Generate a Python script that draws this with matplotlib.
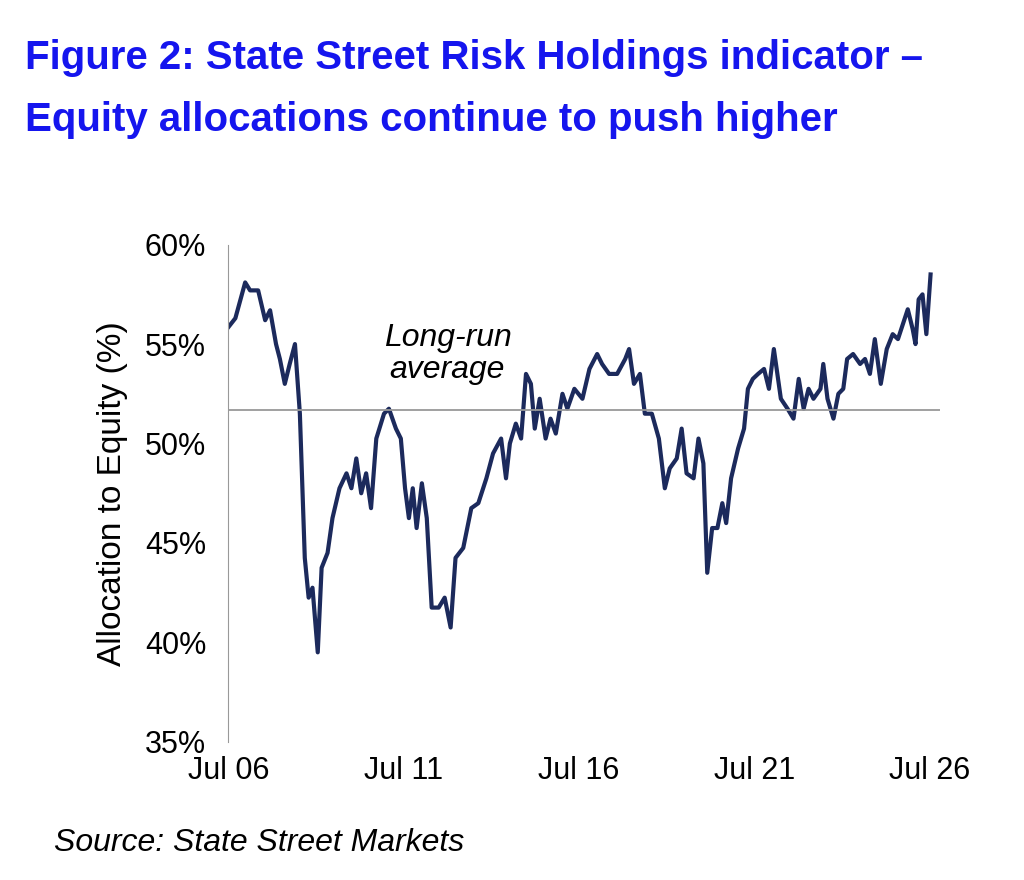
import matplotlib.pyplot as plt

# decimal years (06.50 = Jul 2006) and allocation to equity (%)
years = [6.50, 6.70, 6.84, 6.98, 7.12, 7.35, 7.55, 7.69, 7.86, 7.97, 8.11, 8.25, 8.40, 8.54, 8.68,
         8.79, 8.90, 9.05, 9.16, 9.33, 9.47, 9.67, 9.87, 10.01, 10.15, 10.29, 10.43, 10.57, 10.72,
         10.94, 11.08, 11.28, 11.42, 11.54, 11.65, 11.76, 11.87, 12.02, 12.16, 12.30, 12.50, 12.67,
         12.84, 12.98, 13.20, 13.43, 13.63, 13.86, 14.05, 14.28, 14.42, 14.53, 14.70, 14.85, 14.99,
         15.13, 15.24, 15.38, 15.55, 15.69, 15.84, 16.03, 16.17, 16.37, 16.60, 16.80, 17.02, 17.16,
         17.36, 17.59, 17.82, 17.93, 18.07, 18.24, 18.38, 18.58, 18.78, 18.95, 19.09, 19.29, 19.43,
         19.57, 19.77, 19.91, 20.05, 20.16, 20.30, 20.45, 20.59, 20.70, 20.84, 21.04, 21.21, 21.32,
         21.46, 21.61, 21.78, 21.92, 22.06, 22.26, 22.45, 22.62, 22.77, 22.91, 23.05, 23.19, 23.39,
         23.47, 23.59, 23.76, 23.90, 24.04, 24.15, 24.32, 24.52, 24.66, 24.80, 24.94, 25.11, 25.28,
         25.45, 25.60, 25.74, 25.88, 26.02, 26.10, 26.19, 26.30, 26.41, 26.53]
equity = [55.85, 56.3, 57.2, 58.1, 57.7, 57.7, 56.2, 56.7, 55.0, 54.25, 53.0, 54.0, 55.0, 51.5, 44.25,
          42.25, 42.75, 39.5, 43.75, 44.5, 46.25, 47.75, 48.5, 47.75, 49.25, 47.5, 48.5, 46.75, 50.25,
          51.5, 51.75, 50.75, 50.25, 47.75, 46.25, 47.75, 45.75, 48.0, 46.25, 41.75, 41.75, 42.25,
          40.75, 44.25, 44.75, 46.75, 47.0, 48.25, 49.5, 50.25, 48.25, 50.0, 51.0, 50.25, 53.5,
          53.0, 50.75, 52.25, 50.25, 51.25, 50.5, 52.5, 51.75, 52.75, 52.25, 53.75, 54.5, 54.0,
          53.5, 53.5, 54.25, 54.75, 53.0, 53.5, 51.5, 51.5, 50.25, 47.75, 48.75, 49.25, 50.75,
          48.5, 48.25, 50.25, 49.0, 43.5, 45.75, 45.75, 47.0, 46.0, 48.25, 49.75, 50.75, 52.75,
          53.25, 53.5, 53.75, 52.75, 54.75, 52.25, 51.75, 51.25, 53.25, 51.75, 52.75, 52.25, 52.75,
          54.0, 52.25, 51.25, 52.5, 52.75, 54.25, 54.5, 54.0, 54.25, 53.5, 55.25, 53.0, 54.75,
          55.5, 55.25, 56.0, 56.75, 55.75, 55.0, 57.25, 57.5, 55.5, 58.5]
long_run_avg = 51.7
tick_years = [6.5, 11.5, 16.5, 21.5, 26.5]
tick_labels = ['Jul 06', 'Jul 11', 'Jul 16', 'Jul 21', 'Jul 26']
y_ticks = [35, 40, 45, 50, 55, 60]

plt.rcParams['font.family'] = ['Liberation Sans', 'DejaVu Sans']
fig = plt.figure(figsize=(10.24, 8.8), dpi=100)
ax = fig.add_axes([0.223, 0.157, 0.695, 0.565])

ax.plot(years, equity, color='#1c2a5c', lw=3, solid_joinstyle='round')
ax.axhline(long_run_avg, color='#999999', lw=1.3)
ax.text(12.75, 54.5, 'Long-run\naverage', style='italic', fontsize=23, ha='center', va='center',
        linespacing=1.1)

ax.set_xlim(6.5, 26.8)
ax.set_ylim(35, 60)
ax.set_xticks(tick_years, tick_labels)
ax.set_yticks(y_ticks, [f'{v}%' for v in y_ticks])
ax.tick_params(length=0, labelsize=22)
ax.tick_params(axis='y', pad=16)
ax.tick_params(axis='x', pad=10)
for s in ['top', 'right', 'bottom']:
    ax.spines[s].set_visible(False)
ax.spines['left'].set_color('#999999')
ax.set_ylabel('Allocation to Equity (%)', fontsize=24, labelpad=12)

fig.text(0.024, 0.934, 'Figure 2: State Street Risk Holdings indicator \u2013', color='#1515ee',
         fontsize=29, fontweight='bold', va='center')
fig.text(0.024, 0.864, 'Equity allocations continue to push higher', color='#1515ee',
         fontsize=29, fontweight='bold', va='center')
fig.text(0.053, 0.042, 'Source: State Street Markets', style='italic', fontsize=23, va='center')

fig.savefig('out.png', dpi=100)
